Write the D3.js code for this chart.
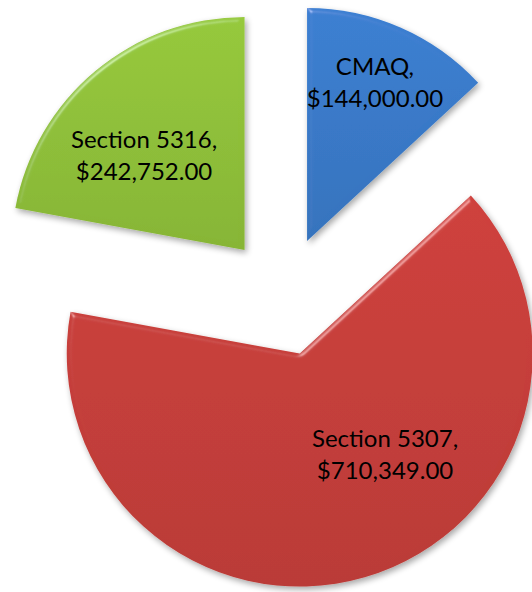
<!DOCTYPE html>
<html>
<head>
<meta charset="utf-8">
<script src="https://cdn.jsdelivr.net/npm/d3@7"></script>
<style>
	body { margin: 0; background: #fff; }
	svg { display: block; }
</style>
</head>
<body>
<div id="chart"></div>
<script>
// data
var categories = ["CMAQ", "Section 5307", "Section 5316"];
var amounts = [144000, 710349, 242752];
var colors = ["#3a7bcb", "#c83f3b", "#91c23a"];

var width = 532, height = 592;
var cx = 283, cy = 296;   // pie centre before explode
var radius = 233;
var explode = 60;
// label nudges (dx, dy) from the label arc centroid
var labelNudge = [[10, -30], [45, -42], [-8, 13]];

var svg = d3.select("#chart")
	.append("svg")
	.attr("width", width)
	.attr("height", height);

var defs = svg.append("defs");

// soft shadow + bevel look
var f = defs.append("filter")
	.attr("id", "bevel")
	.attr("x", "-10%").attr("y", "-10%")
	.attr("width", "120%").attr("height", "120%");
f.append("feGaussianBlur").attr("in", "SourceAlpha").attr("stdDeviation", 3).attr("result", "blur");
f.append("feOffset").attr("in", "blur").attr("dx", 2).attr("dy", 3).attr("result", "offBlur");
f.append("feComponentTransfer").attr("in", "offBlur").attr("result", "shadow")
	.append("feFuncA").attr("type", "linear").attr("slope", 0.35);
f.append("feGaussianBlur").attr("in", "SourceAlpha").attr("stdDeviation", 2.5).attr("result", "blur2");
var spec = f.append("feSpecularLighting")
	.attr("in", "blur2")
	.attr("surfaceScale", 4)
	.attr("specularConstant", 0.8)
	.attr("specularExponent", 30)
	.attr("lighting-color", "#ffffff")
	.attr("result", "spec");
spec.append("feDistantLight").attr("azimuth", 235).attr("elevation", 25);
f.append("feComposite").attr("in", "spec").attr("in2", "SourceAlpha").attr("operator", "in").attr("result", "specIn");
f.append("feComposite").attr("in", "SourceGraphic").attr("in2", "specIn")
	.attr("operator", "arithmetic")
	.attr("k1", 0).attr("k2", 1).attr("k3", 0.35).attr("k4", 0)
	.attr("result", "lit");
var merge = f.append("feMerge");
merge.append("feMergeNode").attr("in", "shadow");
merge.append("feMergeNode").attr("in", "lit");

// gradients per slice
colors.forEach(function (c, i) {
	var g = defs.append("linearGradient")
		.attr("id", "grad" + i)
		.attr("x1", 0).attr("y1", 0)
		.attr("x2", 0).attr("y2", 1);
	g.append("stop").attr("offset", "0%").attr("stop-color", d3.color(c).brighter(0.1));
	g.append("stop").attr("offset", "100%").attr("stop-color", d3.color(c).darker(0.2));
});

var data = categories.map(function (d, i) {
	return { name: d, value: amounts[i], i: i };
});

var pie = d3.pie()
	.sort(null)
	.value(function (d) {
		return d.value;
	});

var arc = d3.arc()
	.innerRadius(0)
	.outerRadius(radius);

var labelArc = d3.arc()
	.innerRadius(radius * 0.62)
	.outerRadius(radius * 0.62);

var arcs = pie(data);

var g = svg.append("g")
	.attr("transform", "translate(" + cx + "," + cy + ")");

var slice = g.selectAll("g.slice")
	.data(arcs)
	.enter()
	.append("g")
	.attr("class", "slice")
	.attr("transform", function (d) {
		var a = (d.startAngle + d.endAngle) / 2;
		return "translate(" + (explode * Math.sin(a)) + "," + (-explode * Math.cos(a)) + ")";
	});

slice.append("path")
	.attr("d", arc)
	.attr("fill", function (d) {
		return "url(#grad" + d.data.i + ")";
	})
	.attr("filter", "url(#bevel)");

var money = d3.format("$,.2f");

var label = slice.append("text")
	.attr("transform", function (d) {
		var c = labelArc.centroid(d);
		var n = labelNudge[d.data.i];
		return "translate(" + (c[0] + n[0]) + "," + (c[1] + n[1]) + ")";
	})
	.attr("text-anchor", "middle")
	.style("font-family", "Lato, 'Open Sans', sans-serif")
	.style("font-size", "24px")
	.style("fill", "#000");

label.append("tspan")
	.attr("x", 0)
	.attr("dy", "-0.15em")
	.text(function (d) {
		return d.data.name + ",";
	});

label.append("tspan")
	.attr("x", 0)
	.attr("dy", 32)
	.text(function (d) {
		return money(d.data.value);
	});
</script>
</body>
</html>
